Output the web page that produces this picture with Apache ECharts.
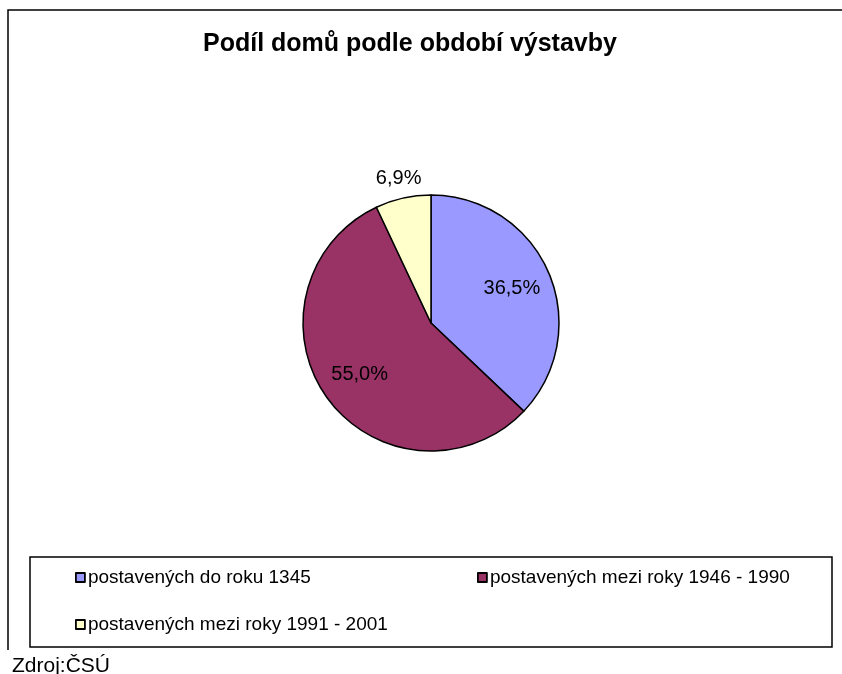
<!DOCTYPE html>
<html>
<head>
<meta charset="utf-8">
<script src="https://cdn.jsdelivr.net/npm/echarts@6/dist/echarts.min.js"></script>
<style>
  html, body { margin: 0; padding: 0; background: #fff; }
  #chart { width: 842px; height: 674px; }
</style>
</head>
<body>
<div id="chart"></div>
<script>
// podíl domů podle období výstavby (zdroj ČSÚ)
const categories = [
  'postavených do roku 1345',
  'postavených mezi roky 1946 - 1990',
  'postavených mezi roky 1991 - 2001',
];
const shares = [36.5, 55.0, 6.9];
const shareLabels = ['36,5%', '55,0%', '6,9%'];
const colors = ['#9999FF', '#993366', '#FFFFCC'];

const FONT = '"Liberation Sans", Arial, sans-serif';

const chart = echarts.init(document.getElementById('chart'));

const legendBase = {
  orient: 'horizontal',
  icon: 'rect',
  itemWidth: 9,
  itemHeight: 9,
  itemGap: 0,
  padding: 0,
  textStyle: { color: '#000', fontFamily: FONT, fontSize: 19, padding: [0, 0, 0, -2] },
  itemStyle: { borderColor: '#000', borderWidth: 1.8 },
};

const labelStyle = { fontFamily: FONT, fontSize: 20, color: '#000' };

chart.setOption({
  backgroundColor: '#fff',
  animation: false,
  color: colors,
  title: [
    {
      text: 'Podíl domů podle období výstavby',
      left: 198,
      top: 27,
      textStyle: { fontFamily: FONT, fontSize: 25, fontWeight: 'bold', color: '#000' },
    },
    {
      text: 'Zdroj:ČSÚ',
      left: 7,
      top: 651,
      textStyle: { fontFamily: FONT, fontSize: 21, fontWeight: 'normal', color: '#000' },
    },
  ],
  legend: [
    Object.assign({}, legendBase, { data: [categories[0]], left: 75, top: 568 }),
    Object.assign({}, legendBase, { data: [categories[1]], left: 477, top: 568 }),
    Object.assign({}, legendBase, { data: [categories[2]], left: 75, top: 615 }),
  ],
  graphic: [
    // okraj oblasti grafu
    { type: 'polyline', shape: { points: [[8, 650], [8, 10], [842, 10]] },
      style: { stroke: '#000', lineWidth: 1.5, fill: null }, silent: true },
    // rámeček legendy
    { type: 'rect', shape: { x: 30, y: 557, width: 802, height: 90 },
      style: { stroke: '#000', lineWidth: 1.5, fill: null }, silent: true },
  ],
  series: [
    {
      type: 'pie',
      center: [431, 323],
      radius: [0, 128],
      startAngle: 90,
      clockwise: true,
      avoidLabelOverlap: false,
      itemStyle: { borderColor: '#000', borderWidth: 1.5 },
      emphasis: { disabled: true },
      label: { show: false },
      labelLine: { show: false },
      data: categories.map((name, i) => ({ name, value: shares[i] })),
    },
    {
      // průhledná vrstva jen pro popisky uvnitř výsečí
      type: 'pie',
      center: [431, 323],
      radius: [42, 128],
      startAngle: 90,
      clockwise: true,
      silent: true,
      avoidLabelOverlap: false,
      itemStyle: { color: 'rgba(0,0,0,0)', borderWidth: 0 },
      label: Object.assign({
        show: true,
        position: 'inside',
        formatter: (p) => (p.dataIndex === 2 ? '' : shareLabels[p.dataIndex]),
      }, labelStyle),
      labelLine: { show: false },
      data: categories.map((name, i) => ({ name, value: shares[i] })),
    },
    {
      // průhledný prstenec pro popisek malé výseče nad koláčem
      type: 'pie',
      center: [431, 323],
      radius: [128, 162],
      startAngle: 90,
      clockwise: true,
      silent: true,
      avoidLabelOverlap: false,
      itemStyle: { color: 'rgba(0,0,0,0)', borderWidth: 0 },
      label: Object.assign({
        show: true,
        position: 'inside',
        formatter: (p) => (p.dataIndex === 2 ? shareLabels[p.dataIndex] : ''),
      }, labelStyle),
      labelLine: { show: false },
      data: categories.map((name, i) => ({ name, value: shares[i] })),
    },
  ],
});
</script>
</body>
</html>
